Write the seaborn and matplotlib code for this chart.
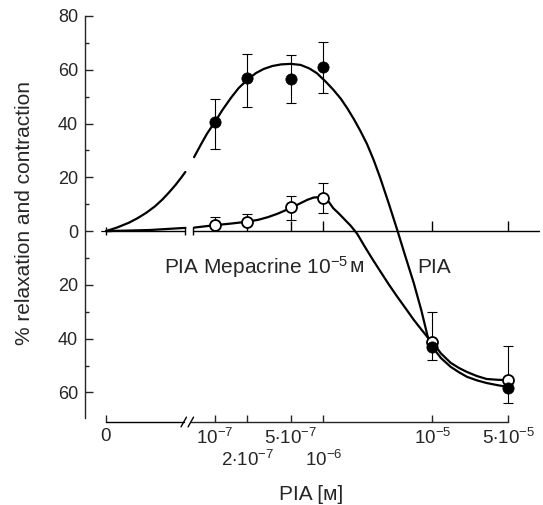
import numpy as np
import pandas as pd
import matplotlib
matplotlib.use("Agg")
import matplotlib.pyplot as plt
import seaborn as sns

# ---------------- data ----------------
CONC = [0, 1e-7, 2e-7, 5e-7, 1e-6, 1e-5, 5e-5]
TICK_LABELS = ["0", r"$\mathregular{10^{-7}}$", r"$\mathregular{2{\cdot}10^{-7}}$",
               r"$\mathregular{5{\cdot}10^{-7}}$", r"$\mathregular{10^{-6}}$",
               r"$\mathregular{10^{-5}}$", r"$\mathregular{5{\cdot}10^{-5}}$"]
TICK_ROW = [1, 1, 2, 1, 2, 1, 1]

PIA_MEAN = [0, 40.4, 56.8, 56.4, 61.1, -43.0, -58.2]
PIA_ERR_LO = [0, 10.0, 10.5, 8.7, 9.9, 4.9, 5.6]
PIA_ERR_HI = [0, 8.6, 8.9, 9.2, 9.2, 0, 0]

MEP_MEAN = [0, 2.2, 3.5, 8.8, 12.4, -41.1, -55.4]
MEP_ERR_LO = [0, 0, 0, 4.7, 5.6, 0, 0]
MEP_ERR_HI = [0, 3.0, 2.8, 4.2, 5.6, 10.9, 12.6]

# hand-drawn curves (x in log10 concentration, the "0" dose sits at -8)
PIA_CURVE_A_X = [-8.0, -7.90, -7.79, -7.71, -7.63, -7.55, -7.48, -7.42, -7.36,
                 -7.31, -7.27]
PIA_CURVE_A_Y = [0.0, 1.3, 3.1, 4.8, 6.8, 9.2, 11.8, 14.4, 17.2, 19.8, 22.0]
PIA_CURVE_B_X = [-7.19, -7.13, -7.07, -7.0, -6.93, -6.85, -6.78, -6.70, -6.62,
                 -6.55, -6.47, -6.39, -6.30, -6.21, -6.13, -6.06, -5.98, -5.91,
                 -5.84, -5.78, -5.72, -5.66, -5.60, -5.54, -5.48, -5.40, -5.32,
                 -5.25, -5.17, -5.10, -5.04, -5.00, -4.92, -4.83, -4.75, -4.68,
                 -4.59, -4.50, -4.40, -4.30]
PIA_CURVE_B_Y = [27.5, 32.0, 36.3, 40.5, 45.0, 49.6, 53.2, 56.3, 58.8,
                 60.3, 61.4, 62.0, 62.2, 61.8, 60.5, 58.7, 55.6, 52.6,
                 49.2, 45.6, 41.6, 37.2, 32.4, 26.6, 20.0, 10.3, 0.2,
                 -9.0, -19.3, -29.5, -39.5, -43.0, -47.2, -50.5, -52.6, -54.2,
                 -55.5, -56.5, -57.3, -58.0]

MEP_CURVE_A_X = [-8.0, -7.6, -7.27]
MEP_CURVE_A_Y = [0.0, 0.4, 1.2]
MEP_CURVE_B_X = [-7.19, -7.0, -6.85, -6.70, -6.60, -6.51, -6.42, -6.30, -6.21,
                 -6.15, -6.09, -6.03, -6.0, -5.95, -5.91, -5.86, -5.81, -5.75,
                 -5.69, -5.62, -5.55, -5.48, -5.40, -5.32, -5.24, -5.17, -5.10,
                 -5.04, -5.00, -4.92, -4.83, -4.75, -4.68, -4.59, -4.50, -4.40,
                 -4.30]
MEP_CURVE_B_Y = [1.3, 2.2, 2.8, 3.5, 4.2, 5.2, 6.5, 8.6, 10.4,
                 11.6, 12.5, 12.6, 12.4, 10.8, 8.5, 6.6, 4.5, 2.0,
                 -1.0, -5.8, -10.4, -14.8, -19.8, -24.5, -29.0, -33.0, -36.6,
                 -39.6, -41.1, -45.5, -49.0, -51.0, -52.4, -53.9, -55.0, -55.3,
                 -55.4]

ZERO_SLOT = -8.0  # axis position used for the "0" dose

# ---------------- style ----------------
sns.set_style("ticks")
plt.rcParams["font.family"] = ["Liberation Sans", "DejaVu Sans"]
plt.rcParams["mathtext.fontset"] = "custom"
plt.rcParams["mathtext.rm"] = "Liberation Sans"
plt.rcParams["mathtext.it"] = "Liberation Sans"
plt.rcParams["mathtext.default"] = "regular"
plt.rcParams["axes.linewidth"] = 1.0

fig = plt.figure(figsize=(5.43, 5.05), dpi=100)
W, H = 543, 505
ax = fig.add_axes([85 / W, 1 - 422 / H, (540 - 85) / W, (422 - 16) / H])

xmin, xmax = -8.193, -4.009
ymin, ymax = -71.0, 80.0
ax.set_xlim(xmin, xmax)
ax.set_ylim(ymin, ymax)

conc = np.array(CONC, dtype=float)
pos = np.where(conc > 0, np.log10(np.where(conc > 0, conc, 1)), ZERO_SLOT)

# zero line with break
zl = dict(color="black", lw=1.0, zorder=1)
ax.plot([ZERO_SLOT, -7.27], [0, 0], **zl)
ax.plot([-7.20, xmax], [0, 0], **zl)
ax.plot([ZERO_SLOT, -7.27, -7.20], [0, 0, 0], ls="none", marker="|",
        ms=6, mew=1.0, color="black", zorder=1)
ax.plot(pos[1:], np.zeros(len(pos) - 1), ls="none", marker=2, ms=7,
        mew=1.0, color="black", zorder=1)

# curves
curves = pd.DataFrame({
    "x": PIA_CURVE_A_X + PIA_CURVE_B_X + MEP_CURVE_A_X + MEP_CURVE_B_X,
    "y": PIA_CURVE_A_Y + PIA_CURVE_B_Y + MEP_CURVE_A_Y + MEP_CURVE_B_Y,
    "seg": (["pa"] * len(PIA_CURVE_A_X) + ["pb"] * len(PIA_CURVE_B_X)
            + ["ma"] * len(MEP_CURVE_A_X) + ["mb"] * len(MEP_CURVE_B_X)),
})
sns.lineplot(data=curves, x="x", y="y", units="seg", estimator=None,
             sort=False, color="black", lw=1.6, ax=ax, zorder=2, legend=False)
for ln in ax.lines[-4:]:
    ln.set_solid_joinstyle("round")

# error bars
ax.errorbar(pos, PIA_MEAN, yerr=[PIA_ERR_LO, PIA_ERR_HI], fmt="none",
            ecolor="black", elinewidth=0.8, capsize=3.3, capthick=0.8, zorder=3)
ax.errorbar(pos[1:], MEP_MEAN[1:], yerr=[MEP_ERR_LO[1:], MEP_ERR_HI[1:]],
            fmt="none", ecolor="black", elinewidth=0.8, capsize=3.3,
            capthick=0.8, zorder=3)

# markers
pts = pd.DataFrame({"x": pos[1:], "pia": PIA_MEAN[1:], "mep": MEP_MEAN[1:]})
sns.scatterplot(data=pts, x="x", y="mep", s=62, facecolor="white",
                edgecolor="black", linewidth=1.3, ax=ax, zorder=4)
sns.scatterplot(data=pts, x="x", y="pia", s=66, color="black",
                edgecolor="black", linewidth=0.5, ax=ax, zorder=5)

# axes styling
for s in ["top", "right"]:
    ax.spines[s].set_visible(False)
ax.spines["left"].set_bounds(-69.5, 80)
ax.spines["bottom"].set_bounds(-7.22, pos[-1])
bt = ax.get_xaxis_transform()
ax.plot([ZERO_SLOT, -7.285], [0, 0], color="black", lw=1.0, transform=bt,
        clip_on=False)
for bx in (-7.285, -7.22):
    ax.plot([bx - 0.025, bx + 0.025], [-0.012, 0.012], color="black", lw=1.0,
            transform=bt, clip_on=False)

ax.set_yticks(np.arange(-60, 81, 20))
ax.set_yticks(np.arange(-50, 80, 20), minor=True)
ax.yaxis.set_major_formatter(plt.FuncFormatter(lambda v, p: f"{abs(v):.0f}"))
ax.tick_params(axis="y", which="major", direction="in", length=6, width=1.0,
               labelsize=13, pad=5)
ax.tick_params(axis="y", which="minor", direction="in", length=3, width=1.0)

row1 = [i for i, r in enumerate(TICK_ROW) if r == 1]
row2 = [i for i, r in enumerate(TICK_ROW) if r == 2]
ax.set_xticks(pos[row1])
ax.set_xticklabels([TICK_LABELS[i] for i in row1])
ax.set_xticks(pos[row2], minor=True)
ax.set_xticklabels([TICK_LABELS[i] for i in row2], minor=True)
ax.tick_params(axis="x", which="major", direction="in", length=5, width=1.0,
               labelsize=13.5, pad=4)
ax.tick_params(axis="x", which="minor", direction="in", length=5, width=1.0,
               labelsize=13.5, pad=20)
ax.set_xlabel("")
ax.set_ylabel("")

fig.text(25 / W, 1 - 213 / H, "% relaxation and contraction", rotation=90,
         ha="center", va="center", fontsize=15)
fig.text(311 / W, 1 - 495 / H, "PIA [ᴍ]", ha="center", va="center",
         fontsize=15)

t1 = ax.text(-7.468, -13.4, r"PIA Mepacrine $\mathregular{10^{-5}}$",
             ha="left", va="center", fontsize=15)
ax.annotate("ᴍ", xy=(1, 0), xycoords=t1, xytext=(1, 3),
            textcoords="offset points", ha="left", va="bottom", fontsize=15)
ax.text(-5.138, -13.4, "PIA", ha="left", va="center", fontsize=15)

fig.savefig("out.png", dpi=100)
